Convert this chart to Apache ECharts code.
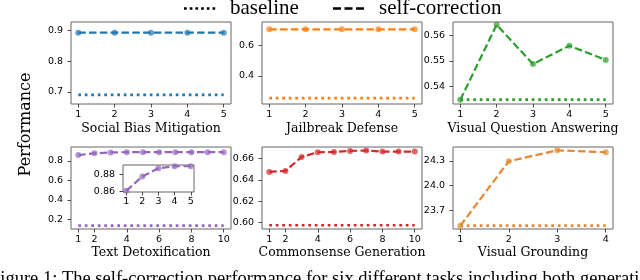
<!DOCTYPE html>
<html><head><meta charset="utf-8">
<script src="https://cdn.jsdelivr.net/npm/echarts@6/dist/echarts.min.js"></script>
<style>html,body{margin:0;padding:0;background:#fff}#c{width:640px;height:280px}</style>
</head><body><div id="c"></div>
<script>
// ---- data ----
const iter5 = [1, 2, 3, 4, 5];
const iter10 = [1, 2, 3, 4, 5, 6, 7, 8, 9, 10];
const iter4 = [1, 2, 3, 4];

const socialBiasSelf = [0.893, 0.893, 0.893, 0.893, 0.893];
const socialBiasBase = [0.690, 0.690, 0.690, 0.690, 0.690];
const jailbreakSelf = [0.704, 0.704, 0.704, 0.704, 0.704];
const jailbreakBase = [0.255, 0.255, 0.255, 0.255, 0.255];
const vqaSelf = [0.5349, 0.5640, 0.5488, 0.5559, 0.5504];
const vqaBase = [0.5350, 0.5350, 0.5350, 0.5350, 0.5350];
const detoxSelf = [0.8604, 0.8776, 0.8875, 0.8899, 0.8899, 0.8899, 0.8899, 0.8899, 0.8899, 0.8899];
const detoxBase = [0.134, 0.134, 0.134, 0.134, 0.134, 0.134, 0.134, 0.134, 0.134, 0.134];
const commonSelf = [0.6475, 0.6484, 0.6615, 0.6659, 0.6662, 0.6671, 0.6675, 0.6665, 0.6665, 0.6665];
const commonBase = [0.5976, 0.5976, 0.5976, 0.5976, 0.5976, 0.5976, 0.5976, 0.5976, 0.5976, 0.5976];
const groundSelf = [23.509, 24.296, 24.430, 24.406];
const groundBase = [23.509, 23.509, 23.509, 23.509];

const xTicks5 = [1, 2, 3, 4, 5];
const xTicks10 = [1, 2, 4, 6, 8, 10];
const xTicks4 = [1, 2, 3, 4];
const yTicksSocial = [0.7, 0.8, 0.9];
const yTicksJail = [0.4, 0.6];
const yTicksVqa = [0.54, 0.55, 0.56];
const yTicksDetox = [0.2, 0.4, 0.6, 0.8];
const yTicksCommon = [0.60, 0.62, 0.64, 0.66];
const yTicksGround = [23.7, 24.0, 24.3];
const yTicksInset = [0.86, 0.88];

const taskNames = ['Social Bias Mitigation', 'Jailbreak Defense', 'Visual Question Answering',
  'Text Detoxification', 'Commonsense Generation', 'Visual Grounding'];
const legendNames = ['baseline', 'self-correction'];
const yLabel = 'Performance';
const caption = 'Figure 1: The self-correction performance for six different tasks including both generation';

// ---- layout ----
const grids = [
  {left: 71, top: 22, width: 160, height: 82},
  {left: 262, top: 22, width: 160, height: 82},
  {left: 453, top: 22, width: 160, height: 82},
  {left: 71, top: 147, width: 160, height: 82},
  {left: 262, top: 147, width: 160, height: 82},
  {left: 453, top: 147, width: 160, height: 82},
  {left: 123, top: 165, width: 71, height: 27}
].map(g => Object.assign({show: true, borderColor: '#666', borderWidth: 1, backgroundColor: '#fff', containLabel: false}, g));

const axisColor = '#222';
function xAxis(i, min, max, ticks, name, gap, lm) {
  return {
    type: 'value', gridIndex: i, min: min, max: max,
    name: name || '', nameLocation: 'middle', nameGap: gap || 0,
    nameTextStyle: {fontFamily: 'DejaVu Serif', fontSize: 12.5, color: '#000'},
    axisLine: {show: false},
    splitLine: {show: false},
    axisTick: {show: true, length: 3.5, customValues: ticks, lineStyle: {color: axisColor, width: 0.8}},
    axisLabel: {customValues: ticks, margin: lm, fontFamily: 'DejaVu Sans', fontSize: 9.5, color: '#000'}
  };
}
function yAxis(i, min, max, ticks, dec) {
  return {
    type: 'value', gridIndex: i, min: min, max: max,
    axisLine: {show: false},
    splitLine: {show: false},
    axisTick: {show: true, length: 3.5, customValues: ticks, lineStyle: {color: axisColor, width: 0.8}},
    axisLabel: {customValues: ticks, margin: 8, fontFamily: 'DejaVu Sans', fontSize: 9.5, color: '#000',
      formatter: v => Number(v).toFixed(dec)}
  };
}

const xAxes = [
  xAxis(0, 0.8, 5.2, xTicks5, taskNames[0], 18, 6),
  xAxis(1, 0.8, 5.2, xTicks5, taskNames[1], 18, 6),
  xAxis(2, 0.8, 5.2, xTicks5, taskNames[2], 18, 6),
  xAxis(3, 0.55, 10.45, xTicks10, taskNames[3], 17, 6),
  xAxis(4, 0.55, 10.45, xTicks10, taskNames[4], 17, 6),
  xAxis(5, 0.85, 4.15, xTicks4, taskNames[5], 17, 6),
  xAxis(6, 0.8, 5.2, xTicks5, '', 0, 5)
];
const yAxes = [
  yAxis(0, 0.660, 0.928, yTicksSocial, 1),
  yAxis(1, 0.216, 0.752, yTicksJail, 1),
  yAxis(2, 0.5333, 0.5651, yTicksVqa, 2),
  yAxis(3, 0.100, 0.943, yTicksDetox, 1),
  yAxis(4, 0.5941, 0.6708, yTicksCommon, 2),
  yAxis(5, 23.469, 24.470, yTicksGround, 1),
  yAxis(6, 0.8590, 0.8914, yTicksInset, 2)
];

function pairs(xs, ys) { return xs.map((x, k) => [x, ys[k]]); }
function selfSeries(i, xs, ys, color) {
  return {type: 'line', xAxisIndex: i, yAxisIndex: i, data: pairs(xs, ys), z: 3,
    symbol: 'circle', symbolSize: 6, color: color,
    itemStyle: {color: color, opacity: 0.7},
    lineStyle: {type: [7.5, 3.3], width: 2.2, color: color, cap: 'butt'}};
}
function baseSeries(i, xs, ys, color) {
  return {type: 'line', xAxisIndex: i, yAxisIndex: i, data: pairs(xs, ys), z: 2,
    symbol: 'none', showSymbol: false, color: color,
    lineStyle: {type: [2.7, 3.8], width: 2.7, color: color, cap: 'butt'}};
}

const C = ['#1f77b4', '#ff7f0e', '#2ca02c', '#9467bd', '#d62728', '#e3892f'];
const series = [
  baseSeries(0, iter5, socialBiasBase, C[0]), selfSeries(0, iter5, socialBiasSelf, C[0]),
  baseSeries(1, iter5, jailbreakBase, C[1]), selfSeries(1, iter5, jailbreakSelf, C[1]),
  baseSeries(2, iter5, vqaBase, C[2]), selfSeries(2, iter5, vqaSelf, C[2]),
  baseSeries(3, iter10, detoxBase, C[3]), selfSeries(3, iter10, detoxSelf, C[3]),
  baseSeries(4, iter10, commonBase, C[4]), selfSeries(4, iter10, commonSelf, C[4]),
  baseSeries(5, iter4, groundBase, C[5]), selfSeries(5, iter4, groundSelf, C[5]),
  selfSeries(6, iter5, detoxSelf.slice(0, 5), C[3])
];

const chart = echarts.init(document.getElementById('c'), null, {renderer: 'canvas'});
chart.setOption({
  animation: false,
  backgroundColor: '#fff',
  grid: grids,
  xAxis: xAxes,
  yAxis: yAxes,
  series: series,
  graphic: [
    {type: 'line', shape: {x1: 184, y1: 8.5, x2: 216, y2: 8.5}, style: {stroke: '#000', lineWidth: 2.7, lineDash: [2.7, 3], lineCap: 'butt'}},
    {type: 'text', x: 230, y: 8.5, style: {text: legendNames[0], fontFamily: 'Liberation Serif', fontSize: 21, fill: '#000', verticalAlign: 'middle'}},
    {type: 'line', shape: {x1: 333, y1: 8.5, x2: 365, y2: 8.5}, style: {stroke: '#000', lineWidth: 2.7, lineDash: [8, 3.5], lineCap: 'butt'}},
    {type: 'text', x: 379, y: 8.5, style: {text: legendNames[1], fontFamily: 'Liberation Serif', fontSize: 21, fill: '#000', verticalAlign: 'middle'}},
    {type: 'text', x: 25.5, y: 124.5, rotation: Math.PI / 2, style: {text: yLabel, fontFamily: 'DejaVu Serif', fontSize: 16, fill: '#000', align: 'center', verticalAlign: 'middle'}},
    {type: 'text', x: -10, y: 279, style: {text: caption, fontFamily: 'Liberation Serif', fontSize: 18.5, fill: '#000', verticalAlign: 'middle'}}
  ]
});
</script></body></html>
